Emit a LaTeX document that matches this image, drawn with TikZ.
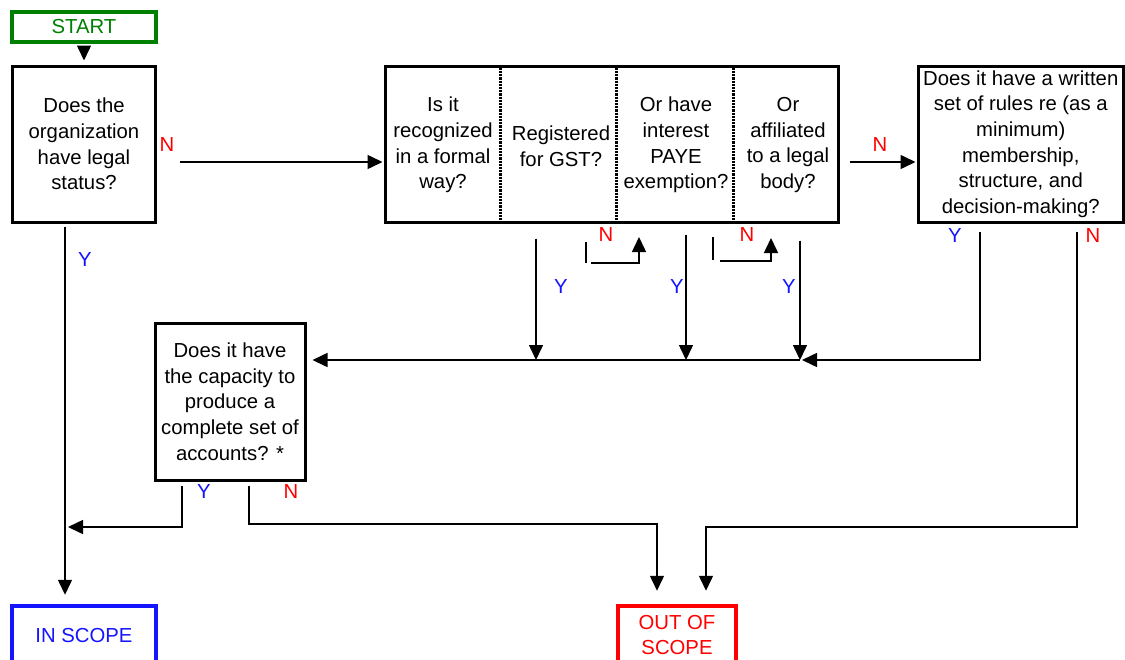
\documentclass[tikz,border=0pt]{standalone}
\usepackage{fontspec}
\setmainfont{Liberation Sans}
\usetikzlibrary{arrows.meta,calc}

\definecolor{gostart}{RGB}{0,128,0}
\definecolor{yesblue}{RGB}{20,20,255}
\definecolor{nored}{RGB}{255,0,0}

\begin{document}
\begin{tikzpicture}[x=1pt,y=-1pt,line width=1.5pt,
  font=\fontsize{20.3}{25.7}\selectfont,
  >={Triangle[length=15pt,width=14pt]},
  qbox/.style={draw,line width=3pt,align=center,inner sep=0pt},
  endbox/.style={draw,line width=4.5pt,align=center,inner sep=0pt},
  ylab/.style={text=yesblue,inner sep=0pt},
  nlab/.style={text=nored,inner sep=0pt}]

% Page frame, the end boxes run off the bottom
\useasboundingbox (0,0) rectangle (1125,659);
\clip (0,0) rectangle (1125,659);

% Define coordinates
\coordinate (ylane) at (65,0);     %Y lane down to IN SCOPE.
\coordinate (mrow) at (0,360);     %row where the Y answers meet.
\coordinate (outrow) at (0,524);   %N from the capacity question.
\coordinate (lowrow) at (0,527);   %N from the rules question.
\coordinate (ya) at (536,0);
\coordinate (yb) at (686,0);
\coordinate (yc) at (800,0);
\coordinate (na) at (639,237);
\coordinate (nb) at (771,238);

% Boxes
\node[endbox,draw=gostart,text=gostart,minimum width=144pt,minimum height=30pt] (start) at (84,27) {START};
\node[qbox,minimum width=143pt,minimum height=156pt] (q1) at (84,144) {Does the\\organization\\have legal\\status?};
\node[qbox,minimum width=453pt,minimum height=156pt] (q2) at (611.5,144) {};
\node[align=center] (q2a) at (443,145) {Is it\\recognized\\in a formal\\way?};
\node[align=center] (q2b) at (561,146) {Registered\\for GST?};
\node[align=center] (q2c) at (676,145) {Or have\\interest\\PAYE\\exemption?};
\node[align=center] (q2d) at (788,145) {Or\\affiliated\\to a legal\\body?};
\node[qbox,minimum width=205.5pt,minimum height=156pt] (q3) at (1020.75,144) {Does it have a written\\set of rules re (as a\\minimum)\\membership,\\structure, and\\decision-making?};
\node[qbox,minimum width=150pt,minimum height=157pt] (q4) at (230,401.5) {Does it have\\the capacity to\\produce a\\complete set of\\accounts? *};
\node[endbox,draw=yesblue,text=yesblue,minimum width=144pt,minimum height=60pt] (in) at (84,636) {IN SCOPE};
\node[endbox,draw=nored,text=nored,minimum width=118pt,minimum height=58pt] (out) at (677,635) {OUT OF\\SCOPE};

\coordinate (outL) at ([xshift=-20pt]out.north);
\coordinate (outR) at ([xshift=29pt]out.north);

% dotted dividers in the second box
\foreach \dx in {117,233,350}
  \draw[densely dotted,line width=2.2pt] ([xshift=\dx pt]q2.north west) -- ([xshift=\dx pt]q2.south west);

% START to first question
\draw[->,shorten <=2pt,shorten >=4pt] (start) -- (q1);

% N: on to the next question
\draw[->,shorten >=1pt] ([xshift=23pt,yshift=-18pt]q1.east) -- ([yshift=-18pt]q2.west);
\draw[->,shorten >=1pt] ([xshift=10pt,yshift=-18pt]q2.east) -- ([yshift=-18pt]q3.west);

% Y: straight down to IN SCOPE
\draw[->,shorten <=3pt,shorten >=9pt] (q1.south -| ylane) -- (in.north -| ylane);

% Y answers below the second box
\draw[->] ($(q2.south -| ya)+(0,15)$) -- (ya |- mrow);
\draw[->] ($(q2.south -| yb)+(0,11)$) -- (yb |- mrow);
\draw[->] ($(q2.south -| yc)+(0,17)$) -- (yc |- mrow);
\draw[->,shorten >=6pt] (yc |- mrow) -- (q4.east |- mrow);

% N loops back up
\draw (586,242) -- (586,263);
\draw[->] (591,263) -| (na);
\draw (713,237) -- (713,260);
\draw[->] (720,261) -| (nb);

% rules question
\draw[->,shorten >=2pt] ([xshift=-41pt,yshift=-8pt]q3.south) |- (yc |- mrow);
\draw[->,shorten >=13pt] ([xshift=56pt,yshift=-8pt]q3.south) |- (outR |- lowrow) -- (outR);

% capacity question
\draw[->,shorten >=3pt] ([xshift=-48pt,yshift=-4pt]q4.south) |- (ylane |- lowrow);
\draw[->,shorten >=13pt] ([xshift=19pt,yshift=-4pt]q4.south) |- (outL |- outrow) -- (outL);

% Y and N labels
\node[nlab] (nl1) at (167,145) {N};
\node[nlab] (nl2) at (880,145) {N};
\node[ylab] (yl1) at (85,260) {Y};
\node[nlab] (nl3) at (606,235) {N};
\node[nlab] (nl4) at (747,235) {N};
\node[ylab] (yl2) at (561,287) {Y};
\node[ylab] (yl3) at (677,287) {Y};
\node[ylab] (yl4) at (789,287) {Y};
\node[ylab] (yl5) at (955,236) {Y};
\node[nlab] (nl5) at (1093,236) {N};
\node[ylab] (yl6) at (204,492) {Y};
\node[nlab] (nl6) at (291,492) {N};

\end{tikzpicture}
\end{document}
